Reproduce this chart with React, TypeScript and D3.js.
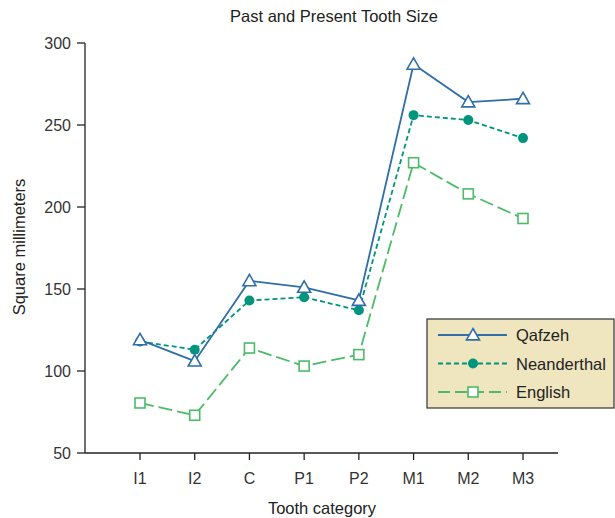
import React from "react";
import * as d3 from "d3";

const categories = ["I1", "I2", "C", "P1", "P2", "M1", "M2", "M3"];
const qafzeh = [119, 106, 155, 151, 143, 287, 264, 266];
const neanderthal = [118, 113, 143, 145, 137, 256, 253, 242];
const english = [80.5, 73, 114, 103, 110, 227, 208, 193];
const yTicks = [50, 100, 150, 200, 250, 300];

const W = 615, H = 518;
const x0 = 85, yTop = 43, yBot = 453;

export default function App() {
  const x = d3.scalePoint<string>().domain(categories).range([140, 523]);
  const y = d3.scaleLinear().domain([50, 300]).range([yBot, yTop]);
  const line = d3.line<number>().x((_, i) => x(categories[i]) as number).y((d) => y(d));

  const series = [
    { name: "Qafzeh", data: qafzeh, color: "#2f6ea8", dash: "none", marker: "tri" },
    { name: "Neanderthal", data: neanderthal, color: "#00957c", dash: "5,3", marker: "circle" },
    { name: "English", data: english, color: "#4cbb68", dash: "14,5", marker: "square" },
  ];

  const marker = (type: string, cx: number, cy: number, color: string, key: string) => {
    if (type === "tri") {
      const s = 6.5;
      return (
        <path key={key} d={`M${cx},${cy - s}L${cx + s},${cy + s * 0.75}L${cx - s},${cy + s * 0.75}Z`}
          fill="white" stroke={color} strokeWidth={1.6} />
      );
    }
    if (type === "circle") return <circle key={key} cx={cx} cy={cy} r={5} fill={color} />;
    return <rect key={key} x={cx - 5} y={cy - 5} width={10} height={10} fill="white" stroke={color} strokeWidth={1.6} />;
  };

  const font = "Liberation Sans, Arial, sans-serif";
  const lgX = 427, lgY = 319;

  return (
    <svg width={W} height={H} style={{ position: "absolute", left: 0, top: 0 }} fontFamily={font}>
      <rect width={W} height={H} fill="white" />
      <text x={334} y={22} textAnchor="middle" fontSize={16.5} fill="#222">Past and Present Tooth Size</text>
      {/* axes */}
      <line x1={x0} x2={x0} y1={yTop} y2={yBot} stroke="#222" strokeWidth={1.3} />
      <line x1={x0} x2={558} y1={yBot} y2={yBot} stroke="#222" strokeWidth={1.3} />
      {yTicks.map((t) => (
        <g key={t}>
          <line x1={x0 - 8} x2={x0} y1={y(t)} y2={y(t)} stroke="#222" strokeWidth={1.3} />
          <text x={x0 - 14} y={y(t) + 5.5} textAnchor="end" fontSize={16} fill="#333">{t}</text>
        </g>
      ))}
      {categories.map((c) => (
        <g key={c}>
          <line x1={x(c)} x2={x(c)} y1={yBot} y2={yBot + 7} stroke="#222" strokeWidth={1.3} />
          <text x={x(c)} y={yBot + 31} textAnchor="middle" fontSize={16} fill="#333">{c}</text>
        </g>
      ))}
      <text x={322} y={514} textAnchor="middle" fontSize={16.5} fill="#222">Tooth category</text>
      <text transform={`translate(25,${247}) rotate(-90)`} textAnchor="middle" fontSize={16.5} fill="#222">Square millimeters</text>
      {/* series */}
      {series.slice().reverse().map((s) => (
        <g key={s.name}>
          <path d={line(s.data) || ""} fill="none" stroke={s.color} strokeWidth={1.8} strokeDasharray={s.dash} />
          {s.data.map((v, i) => marker(s.marker, x(categories[i]) as number, y(v), s.color, s.name + i))}
        </g>
      ))}
      {/* legend */}
      <rect x={lgX} y={lgY} width={187} height={89} fill="#efe5be" stroke="#333" strokeWidth={1.2} />
      {series.map((s, i) => {
        const cy = lgY + 16 + i * 28.5;
        return (
          <g key={s.name}>
            <line x1={lgX + 11} x2={lgX + 80} y1={cy} y2={cy} stroke={s.color} strokeWidth={1.8} strokeDasharray={s.dash === "14,5" ? "12,5" : s.dash} />
            {marker(s.marker, lgX + 46, cy, s.color, "lg" + i)}
            <text x={lgX + 89} y={cy + 6} fontSize={16.5} fill="#222">{s.name}</text>
          </g>
        );
      })}
    </svg>
  );
}
